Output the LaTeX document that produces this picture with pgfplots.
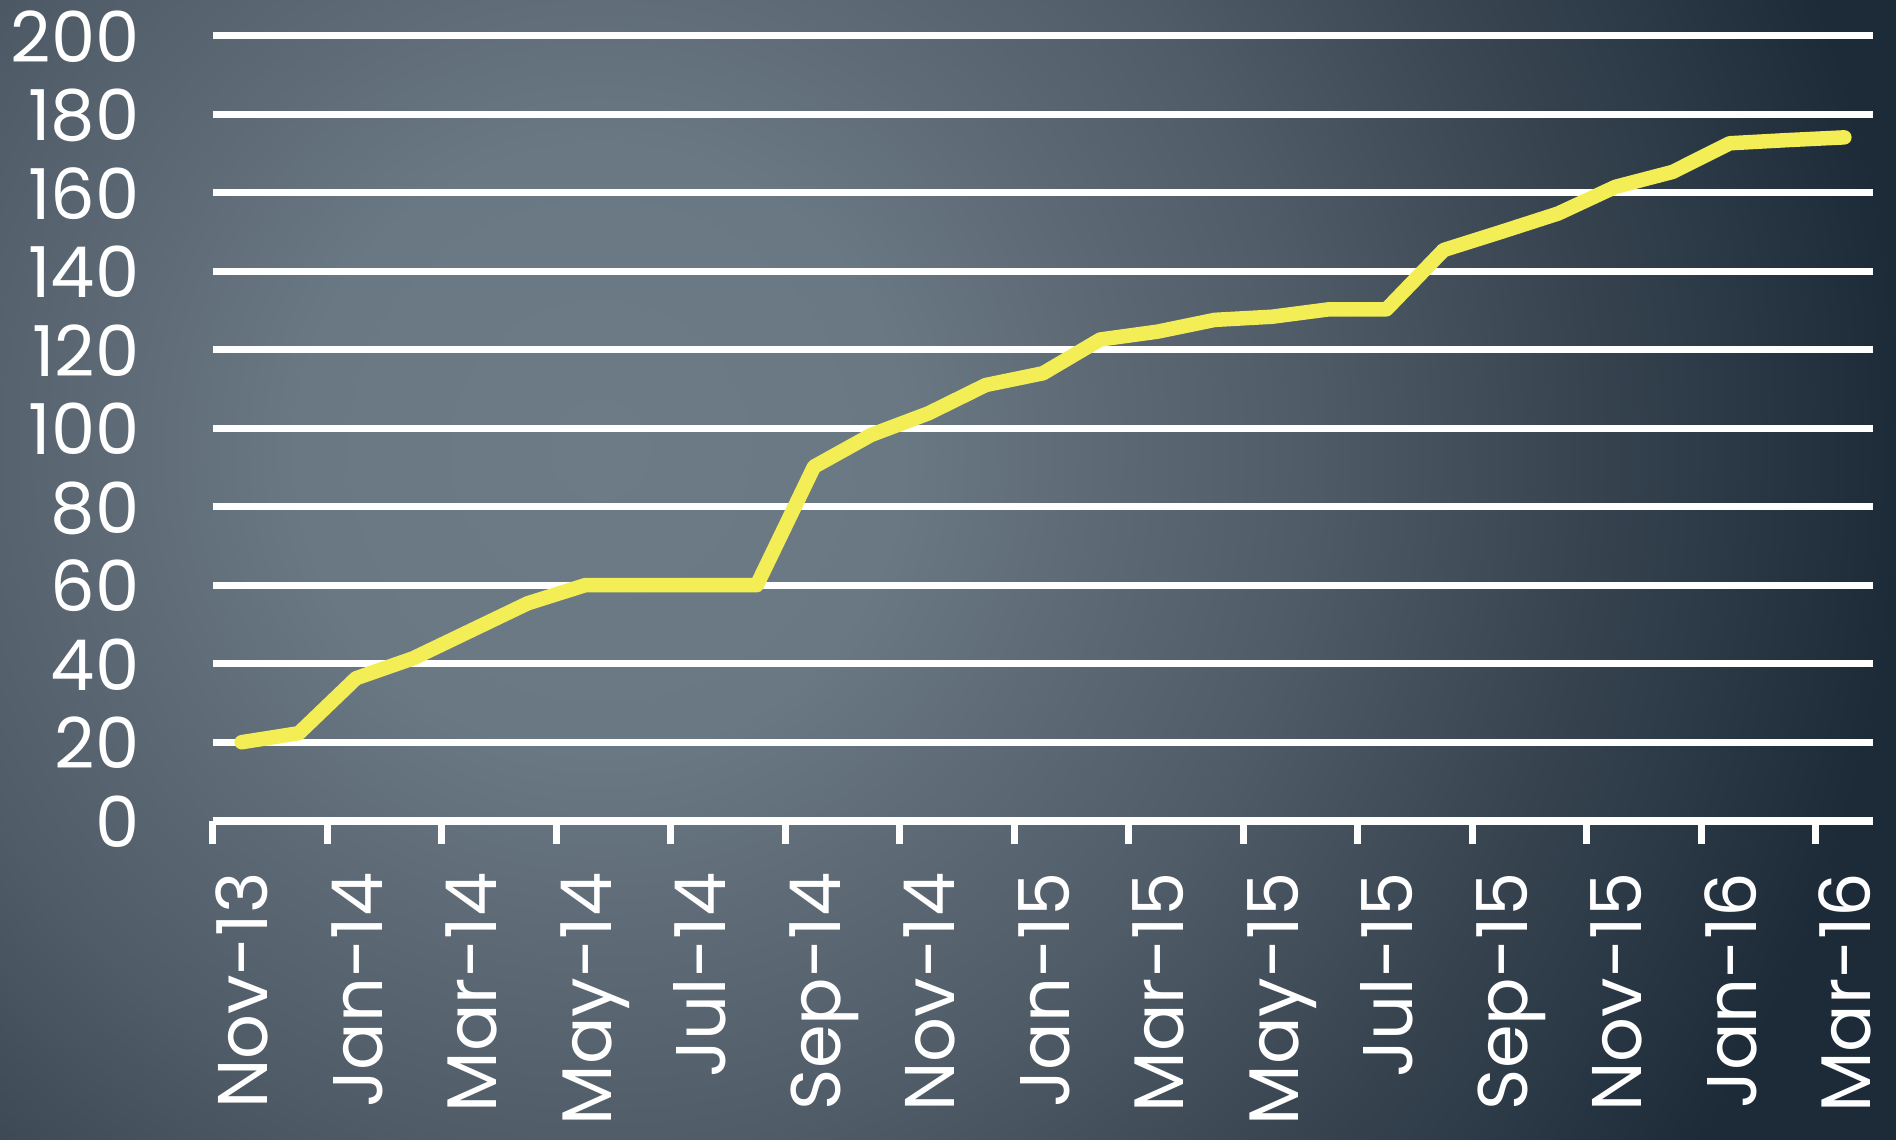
\documentclass[border=0pt]{standalone}
\usepackage{pgfplots}
\pgfplotsset{compat=1.18}
\usepackage{fontspec}
\setmainfont{Poppins}
\definecolor{bgA}{HTML}{6D7B86}
\definecolor{bgB}{HTML}{6A7883}
\definecolor{bgC}{HTML}{505C67}
\definecolor{bgD}{HTML}{36434F}
\definecolor{bgE}{HTML}{1D2B39}
\definecolor{lineyellow}{HTML}{F3EE55}
\pgfdeclareradialshading{bgshade}{\pgfpoint{0bp}{0bp}}{color(0bp)=(bgA); color(2.9bp)=(bgB); color(6.7bp)=(bgC); color(9.6bp)=(bgD); color(12.5bp)=(bgE); color(50bp)=(bgE)}
\begin{document}
\begin{tikzpicture}
\useasboundingbox (0,0) rectangle (18.96,11.39);
\begin{scope}
\clip (0,0) rectangle (18.96,11.39);
\fill[bgE] (0,0) rectangle (18.96,11.39);
\shade[shading=bgshade] (6.0,6.89) circle (26);
\end{scope}
\begin{axis}[
 at={(2.13cm,3.183cm)}, anchor=south west,
 scale only axis, width=16.6cm, height=7.85cm,
 xmin=0, xmax=29, ymin=0, ymax=200,
 axis x line*=bottom, axis y line*=left,
 y axis line style={draw=none},
 x axis line style={draw=white, line width=0.83mm, -},
 ytick={0,20,...,200},
 ymajorgrids, grid style={white, line width=0.67mm},
 xtick={0.5,2.5,...,28.5},
 xticklabels={Nov-13,Jan-14,Mar-14,May-14,Jul-14,Sep-14,Nov-14,Jan-15,Mar-15,May-15,Jul-15,Sep-15,Nov-15,Jan-16,Mar-16},
 major tick length=0pt,
 tick style={white, line width=0.7mm},
 extra x ticks={0,2,...,28},
 extra x tick labels={},
 extra x tick style={major tick length=2.3mm, tick align=outside},
 /pgf/number format/assume math mode=true,
 ticklabel style={font=\fontsize{20}{20}\selectfont, text=white, text height=15pt, text depth=0pt},
 xticklabel style={rotate=90, anchor=east, inner xsep=5.1mm},
 yticklabel style={anchor=east, inner xsep=7.3mm},
 clip=false,
]
\addplot[lineyellow, line width=1.45mm, line cap=round, line join=round] coordinates {
(0.5,20) (1.5,22.3) (2.5,36.3) (3.5,41.4) (4.5,48.4) (5.5,55.4) (6.5,60) (7.5,60) (8.5,60) (9.5,60)
(10.5,90.2) (11.5,98.3) (12.5,103.8) (13.5,111) (14.5,114) (15.5,122.6) (16.5,124.6) (17.5,127.6)
(18.5,128.4) (19.5,130.3) (20.5,130.3) (21.5,145.4) (22.5,150) (23.5,154.7) (24.5,161.5)
(25.5,165.3) (26.5,172.6) (27.5,173.4) (28.5,174.1)
};
\end{axis}
\end{tikzpicture}
\end{document}
